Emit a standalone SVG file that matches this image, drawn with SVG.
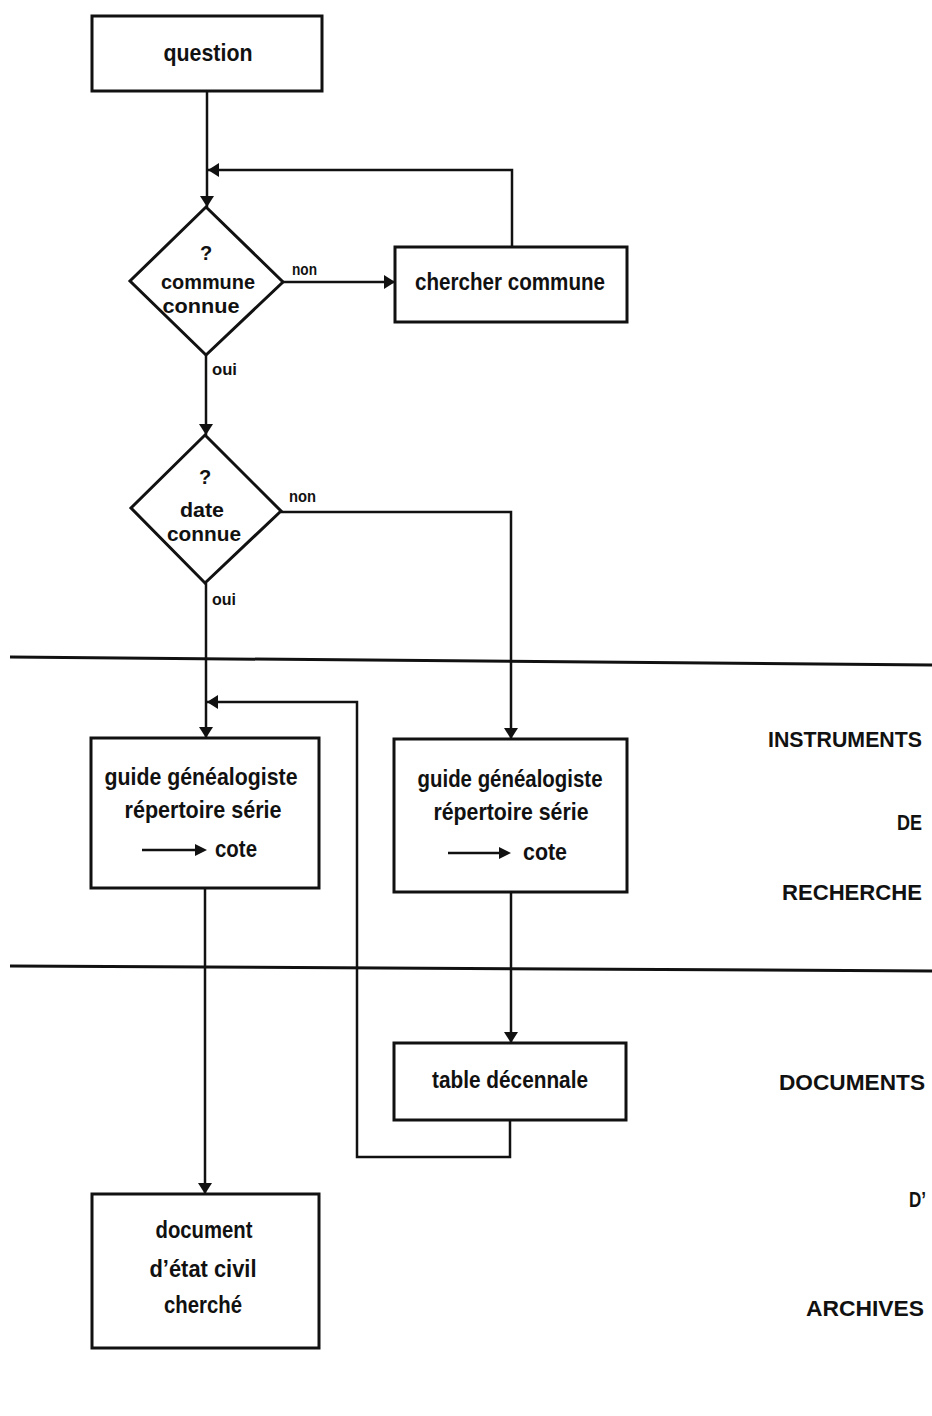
<svg xmlns="http://www.w3.org/2000/svg" width="932" height="1416" viewBox="0 0 932 1416">
<style>
text{font-family:"Liberation Sans",Arial,sans-serif;font-weight:bold;fill:#111;text-anchor:middle;font-size:24px}
.dia{font-size:20px}
.lbl{font-size:16px;text-anchor:start}
.side{font-size:22px;text-anchor:start}
.box{fill:#fff;stroke:#111;stroke-width:3}
.con{fill:none;stroke:#111;stroke-width:2.5}
.sep{fill:none;stroke:#111;stroke-width:3}
</style>
<defs>
<marker id="ah" markerUnits="userSpaceOnUse" markerWidth="12" markerHeight="14" refX="11" refY="7" orient="auto">
<path d="M0,0 L11,7 L0,14 z" fill="#111"/>
</marker>
</defs>
<rect width="932" height="1416" fill="#fff"/>
<g id="separators">
<path class="sep" d="M10,657 L932,665"/>
<path class="sep" d="M10,966 L932,971"/>
</g>
<g id="connectors">
<path class="con" d="M207,91 V207" marker-end="url(#ah)"/>
<path class="con" d="M512,247 V170 H208" marker-end="url(#ah)"/>
<path class="con" d="M283,282 H395" marker-end="url(#ah)"/>
<path class="con" d="M206,355 V435" marker-end="url(#ah)"/>
<path class="con" d="M206,583 V738" marker-end="url(#ah)"/>
<path class="con" d="M281,512 H511 V739" marker-end="url(#ah)"/>
<path class="con" d="M511,892 V1043" marker-end="url(#ah)"/>
<path class="con" d="M510,1120 V1157 H357 V702 H207" marker-end="url(#ah)"/>
<path class="con" d="M205,888 V1194" marker-end="url(#ah)"/>
<text class="lbl" x="292" y="275" textLength="25" lengthAdjust="spacingAndGlyphs">non</text>
<text class="lbl" x="212" y="375" textLength="25" lengthAdjust="spacingAndGlyphs">oui</text>
<text class="lbl" x="289" y="502" textLength="27" lengthAdjust="spacingAndGlyphs">non</text>
<text class="lbl" x="212" y="605" textLength="24" lengthAdjust="spacingAndGlyphs">oui</text>
</g>
<g id="question">
<rect class="box" x="92" y="16" width="230" height="75"/>
<text x="208" y="61" textLength="89" lengthAdjust="spacingAndGlyphs">question</text>
</g>
<g id="commune-connue">
<path class="box" d="M206,207 L283,282 L206,355 L130,281 Z"/>
<text class="dia" x="206" y="260">?</text>
<text class="dia" x="208" y="289" textLength="94" lengthAdjust="spacingAndGlyphs">commune</text>
<text class="dia" x="201" y="313" textLength="77" lengthAdjust="spacingAndGlyphs">connue</text>
</g>
<g id="chercher-commune">
<rect class="box" x="395" y="247" width="232" height="75"/>
<text x="510" y="290" textLength="190" lengthAdjust="spacingAndGlyphs">chercher commune</text>
</g>
<g id="date-connue">
<path class="box" d="M205,435 L281,511 L205,583 L131,508 Z"/>
<text class="dia" x="205" y="484">?</text>
<text class="dia" x="202" y="517" textLength="44" lengthAdjust="spacingAndGlyphs">date</text>
<text class="dia" x="204" y="541" textLength="74" lengthAdjust="spacingAndGlyphs">connue</text>
</g>
<g id="guide-left">
<rect class="box" x="91" y="738" width="228" height="150"/>
<text x="201" y="785" textLength="193" lengthAdjust="spacingAndGlyphs">guide généalogiste</text>
<text x="203" y="818" textLength="157" lengthAdjust="spacingAndGlyphs">répertoire série</text>
<path d="M142,850 H198" stroke="#111" stroke-width="2.5"/>
<path d="M195,844 L207,850 L195,856 z" fill="#111"/>
<text x="236" y="857" textLength="42" lengthAdjust="spacingAndGlyphs">cote</text>
</g>
<g id="guide-right">
<rect class="box" x="394" y="739" width="233" height="153"/>
<text x="510" y="787" textLength="185" lengthAdjust="spacingAndGlyphs">guide généalogiste</text>
<text x="511" y="820" textLength="155" lengthAdjust="spacingAndGlyphs">répertoire série</text>
<path d="M448,853 H502" stroke="#111" stroke-width="2.5"/>
<path d="M499,847 L511,853 L499,859 z" fill="#111"/>
<text x="545" y="860" textLength="44" lengthAdjust="spacingAndGlyphs">cote</text>
</g>
<g id="table-decennale">
<rect class="box" x="394" y="1043" width="232" height="77"/>
<text x="510" y="1088" textLength="156" lengthAdjust="spacingAndGlyphs">table décennale</text>
</g>
<g id="document">
<rect class="box" x="92" y="1194" width="227" height="154"/>
<text x="204" y="1238" textLength="97" lengthAdjust="spacingAndGlyphs">document</text>
<text x="203" y="1277" textLength="107" lengthAdjust="spacingAndGlyphs">d’état civil</text>
<text x="203" y="1313" textLength="78" lengthAdjust="spacingAndGlyphs">cherché</text>
</g>
<g id="side-labels">
<text class="side" x="768" y="747" textLength="154" lengthAdjust="spacingAndGlyphs">INSTRUMENTS</text>
<text class="side" x="897" y="830" textLength="25" lengthAdjust="spacingAndGlyphs">DE</text>
<text class="side" x="782" y="900" textLength="140" lengthAdjust="spacingAndGlyphs">RECHERCHE</text>
<text class="side" x="779" y="1090" textLength="146" lengthAdjust="spacingAndGlyphs">DOCUMENTS</text>
<text class="side" x="909" y="1207" textLength="17" lengthAdjust="spacingAndGlyphs">D’</text>
<text class="side" x="806" y="1316" textLength="118" lengthAdjust="spacingAndGlyphs">ARCHIVES</text>
</g>
</svg>
